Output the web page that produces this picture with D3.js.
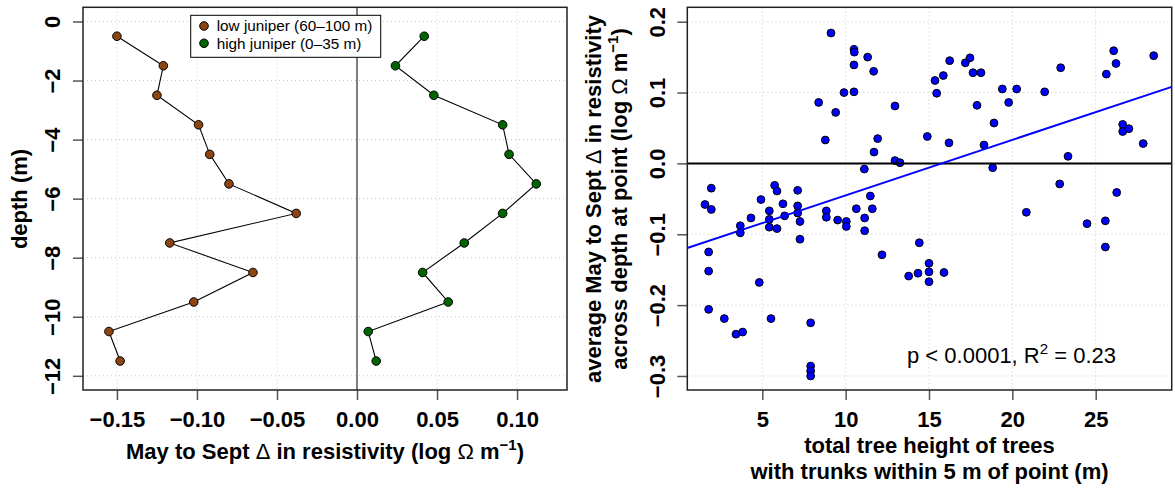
<!DOCTYPE html>
<html>
<head>
<meta charset="utf-8">
<script src="https://cdn.jsdelivr.net/npm/d3@7"></script>
<style>
  html, body { margin: 0; padding: 0; background: #fff; }
  svg { display: block; font-family: "Liberation Sans", Arial, Helvetica, sans-serif; }
</style>
</head>
<body>
<svg id="chart" width="1175" height="488"></svg>
<script>
// ---------- DATA ----------
const depths = [-0.5, -1.5, -2.5, -3.5, -4.5, -5.5, -6.5, -7.5, -8.5, -9.5, -10.5, -11.5];
const lowJuniper  = [-0.150, -0.121, -0.125, -0.099, -0.092, -0.080, -0.038, -0.117, -0.065, -0.102, -0.155, -0.148];
const highJuniper = [0.042, 0.024, 0.048, 0.091, 0.095, 0.112, 0.091, 0.067, 0.041, 0.057, 0.007, 0.012];
const seriesNames = ["low juniper (60\u2013100 m)", "high juniper (0\u201335 m)"];

const leftXTicks = [-0.15, -0.10, -0.05, 0.00, 0.05, 0.10];
const leftXTickLabels = ["\u22120.15", "\u22120.10", "\u22120.05", "0.00", "0.05", "0.10"];
const leftYTicks = [0, -2, -4, -6, -8, -10, -12];
const leftYTickLabels = ["0", "\u22122", "\u22124", "\u22126", "\u22128", "\u221210", "\u221212"];

const treeHeight = [9.12, 10.50, 10.52, 11.32, 10.50, 11.68, 8.38, 9.90, 10.50, 9.40,
  8.78, 11.92, 11.70, 11.12, 1.94, 1.56, 1.94, 3.68, 3.68, 4.32,
  4.92, 5.74, 5.88, 5.42, 5.42, 5.42, 5.88, 6.24, 6.34, 7.12,
  7.12, 7.12, 7.26, 7.26, 8.84, 8.84, 9.52, 10.04, 10.04, 10.64,
  11.14, 11.14, 11.48, 11.60, 1.78, 1.78, 4.82, 1.78, 2.72, 3.42,
  3.82, 5.52, 7.90, 7.90, 7.90, 7.90, 12.18, 14.42, 13.78, 14.34,
  15.00, 15.00, 15.00, 15.90, 25.58, 12.96, 12.96, 13.26, 14.90, 15.36,
  15.46, 15.86, 16.24, 16.20, 17.18, 17.46, 17.64, 18.12, 17.88, 18.30,
  18.82, 18.90, 19.40, 19.78, 20.26, 20.84, 21.94, 22.90, 22.84, 23.34,
  24.48, 25.58, 25.64, 26.08, 26.22, 26.26, 26.62, 26.62, 26.99, 27.85, 28.48];
const avgChange = [0.184, 0.161, 0.157, 0.150, 0.139, 0.130, 0.086, 0.100, 0.101, 0.072,
  0.033, 0.035, 0.016, -0.008, -0.035, -0.058, -0.065, -0.088, -0.098, -0.077,
  -0.051, -0.031, -0.039, -0.067, -0.079, -0.090, -0.092, -0.057, -0.074, -0.038,
  -0.060, -0.070, -0.082, -0.107, -0.067, -0.076, -0.080, -0.082, -0.089, -0.064,
  -0.077, -0.095, -0.046, -0.064, -0.125, -0.152, -0.168, -0.206, -0.219, -0.241,
  -0.238, -0.219, -0.225, -0.286, -0.293, -0.300, -0.129, -0.112, -0.159, -0.155,
  -0.141, -0.153, -0.167, -0.154, -0.118, 0.081, 0.004, 0.001, 0.038, 0.117,
  0.099, 0.124, 0.145, 0.029, 0.142, 0.149, 0.128, 0.128, 0.082, 0.026,
  -0.006, 0.057, 0.105, 0.086, 0.105, -0.069, 0.101, 0.135, -0.029, 0.010,
  -0.085, -0.081, 0.126, 0.159, 0.141, -0.041, 0.055, 0.045, 0.049, 0.028, 0.152];
const fitIntercept = -0.1234;
const fitSlope = 0.00783;

const rightXTicks = [5, 10, 15, 20, 25];
const rightXTickLabels = ["5", "10", "15", "20", "25"];
const rightYTicks = [-0.3, -0.2, -0.1, 0.0, 0.1, 0.2];
const rightYTickLabels = ["\u22120.3", "\u22120.2", "\u22120.1", "0.0", "0.1", "0.2"];

// ---------- STYLE / LAYOUT ----------
const svg = d3.select("#chart");
const TICK_FONT = 22, TITLE_FONT = 22;
const gridColor = "#c8c8c8";
const boxTop = 7.3, boxBottom = 390;

function panel(opts) {
  const g = svg.append("g");
  const x = d3.scaleLinear().domain(opts.xDomain).range([opts.left, opts.right]);
  const y = d3.scaleLinear().domain(opts.yDomain).range([boxBottom, boxTop]);

  // grid
  g.selectAll(".gx").data(opts.xTicks).join("line")
    .attr("x1", d => x(d)).attr("x2", d => x(d)).attr("y1", boxTop).attr("y2", boxBottom)
    .attr("stroke", gridColor).attr("stroke-width", 1).attr("stroke-dasharray", "1,3");
  g.selectAll(".gy").data(opts.yTicks).join("line")
    .attr("y1", d => y(d)).attr("y2", d => y(d)).attr("x1", opts.left).attr("x2", opts.right)
    .attr("stroke", gridColor).attr("stroke-width", 1).attr("stroke-dasharray", "1,3");

  // axes via d3 axis
  const xAxis = d3.axisBottom(x).tickValues(opts.xTicks)
    .tickFormat((d, i) => opts.xLabels[i]).tickSize(10).tickPadding(14);
  const gx = g.append("g").attr("transform", `translate(0,${boxBottom})`).call(xAxis);
  gx.select(".domain").remove();
  gx.selectAll(".tick line").attr("stroke", "#555").attr("stroke-width", 1.5);
  gx.selectAll(".tick text").attr("font-size", TICK_FONT).attr("font-weight", "bold")
    .attr("fill", "#000").attr("font-family", "Liberation Sans, Arial, sans-serif")
    .attr("dy", null).attr("y", 36.5);

  const yAxis = d3.axisLeft(y).tickValues(opts.yTicks)
    .tickFormat((d, i) => opts.yLabels[i]).tickSize(10);
  const gy = g.append("g").attr("transform", `translate(${opts.left},0)`).call(yAxis);
  gy.select(".domain").remove();
  gy.selectAll(".tick line").attr("stroke", "#555").attr("stroke-width", 1.5);
  gy.selectAll(".tick text").attr("font-size", TICK_FONT).attr("font-weight", "bold")
    .attr("fill", "#000").attr("font-family", "Liberation Sans, Arial, sans-serif")
    .attr("x", null).attr("dy", null)
    .attr("text-anchor", "middle")
    .attr("transform", `translate(${-(opts.left - opts.yLabelX)},0) rotate(-90)`);

  return { g, x, y };
}

// ---------- LEFT PANEL ----------
const L = panel({
  left: 83, right: 567,
  xDomain: [-0.1712, 0.1312], yDomain: [-12.48, 0.48],
  xTicks: leftXTicks, xLabels: leftXTickLabels,
  yTicks: leftYTicks, yLabels: leftYTickLabels,
  yLabelX: 59.5
});
// zero line
L.g.append("line").attr("x1", L.x(0)).attr("x2", L.x(0)).attr("y1", boxTop).attr("y2", boxBottom)
  .attr("stroke", "#555").attr("stroke-width", 1.5);

const lineGen = d3.line().x(d => L.x(d[0])).y(d => L.y(d[1]));
[[lowJuniper, "#8B4513"], [highJuniper, "#006400"]].forEach(([vals, col]) => {
  const pts = vals.map((v, i) => [v, depths[i]]);
  L.g.append("path").attr("d", lineGen(pts)).attr("fill", "none").attr("stroke", "#000").attr("stroke-width", 1.1);
  L.g.selectAll(null).data(pts).join("circle")
    .attr("cx", d => L.x(d[0])).attr("cy", d => L.y(d[1])).attr("r", 4.3)
    .attr("fill", col).attr("stroke", "#000").attr("stroke-width", 1);
});

// legend
const leg = L.g.append("g");
leg.append("rect").attr("x", 190.7).attr("y", 15.3).attr("width", 190).attr("height", 42)
  .attr("fill", "#fff").attr("stroke", "#000").attr("stroke-width", 1);
["#8B4513", "#006400"].forEach((col, i) => {
  const cy = 26 + i * 17.3;
  leg.append("circle").attr("cx", 204).attr("cy", cy).attr("r", 4.3)
    .attr("fill", col).attr("stroke", "#000").attr("stroke-width", 1);
  leg.append("text").attr("x", 216.7).attr("y", cy + 5.3).attr("font-size", 15.3)
    .attr("fill", "#000").text(seriesNames[i]);
});

// box
L.g.append("rect").attr("x", 83).attr("y", boxTop).attr("width", 567 - 83).attr("height", boxBottom - boxTop)
  .attr("fill", "none").attr("stroke", "#222").attr("stroke-width", 1.5);

// titles
function richTitle(sel, parts) {
  parts.forEach(p => {
    const t = sel.append("tspan").text(p.t);
    if (p.normal) t.attr("font-weight", "normal");
    if (p.sup) t.attr("font-size", 15).attr("dy", -9);
    if (p.after) t.attr("dy", 9);
  });
}
const lt = svg.append("text").attr("x", 325).attr("y", 459).attr("text-anchor", "middle")
  .attr("font-size", TITLE_FONT).attr("font-weight", "bold");
richTitle(lt, [{t: "May to Sept "}, {t: "\u0394", normal: true}, {t: " in resistivity (log "},
  {t: "\u03A9", normal: true}, {t: " m"}, {t: "\u22121", sup: true}, {t: ")", after: true}]);

svg.append("text").attr("transform", "translate(27,199) rotate(-90)").attr("text-anchor", "middle")
  .attr("font-size", TITLE_FONT).attr("font-weight", "bold").text("depth (m)");

// ---------- RIGHT PANEL ----------
const R = panel({
  left: 687.3, right: 1171.7,
  xDomain: [0.5, 29.56], yDomain: [-0.3198, 0.2203],
  xTicks: rightXTicks, xLabels: rightXTickLabels,
  yTicks: rightYTicks, yLabels: rightYTickLabels,
  yLabelX: 665
});
R.g.selectAll(null).data(treeHeight.map((h, i) => [h, avgChange[i]])).join("circle")
  .attr("cx", d => R.x(d[0])).attr("cy", d => R.y(d[1])).attr("r", 3.9)
  .attr("fill", "#0000FF").attr("stroke", "#000").attr("stroke-width", 1);

R.g.append("line").attr("x1", 687.3).attr("x2", 1171.7).attr("y1", R.y(0)).attr("y2", R.y(0))
  .attr("stroke", "#000").attr("stroke-width", 2);
const xd = R.x.domain();
R.g.append("line")
  .attr("x1", R.x(xd[0])).attr("y1", R.y(fitIntercept + fitSlope * xd[0]))
  .attr("x2", R.x(xd[1])).attr("y2", R.y(fitIntercept + fitSlope * xd[1]))
  .attr("stroke", "#0000FF").attr("stroke-width", 2);

R.g.append("rect").attr("x", 687.3).attr("y", boxTop).attr("width", 1171.7 - 687.3).attr("height", boxBottom - boxTop)
  .attr("fill", "none").attr("stroke", "#222").attr("stroke-width", 1.5);

const ann = svg.append("text").attr("x", 1011.5).attr("y", 363.3).attr("text-anchor", "middle")
  .attr("font-size", 22);
ann.append("tspan").text("p < 0.0001, R");
ann.append("tspan").text("2").attr("font-size", 15).attr("dy", -9);
ann.append("tspan").text(" = 0.23").attr("dy", 9);

svg.append("text").attr("x", 929.5).attr("y", 453.3).attr("text-anchor", "middle")
  .attr("font-size", TITLE_FONT).attr("font-weight", "bold").text("total tree height of trees");
svg.append("text").attr("x", 929.5).attr("y", 479.3).attr("text-anchor", "middle")
  .attr("font-size", TITLE_FONT).attr("font-weight", "bold").text("with trunks within 5 m of point (m)");

const ry1 = svg.append("text").attr("transform", "translate(601,199) rotate(-90)").attr("text-anchor", "middle")
  .attr("font-size", TITLE_FONT).attr("font-weight", "bold");
richTitle(ry1, [{t: "average May to Sept "}, {t: "\u0394", normal: true}, {t: " in resistivity"}]);
const ry2 = svg.append("text").attr("transform", "translate(627,199) rotate(-90)").attr("text-anchor", "middle")
  .attr("font-size", TITLE_FONT).attr("font-weight", "bold");
richTitle(ry2, [{t: "across depth at point (log "}, {t: "\u03A9", normal: true}, {t: " m"},
  {t: "\u22121", sup: true}, {t: ")", after: true}]);
</script>
</body>
</html>
